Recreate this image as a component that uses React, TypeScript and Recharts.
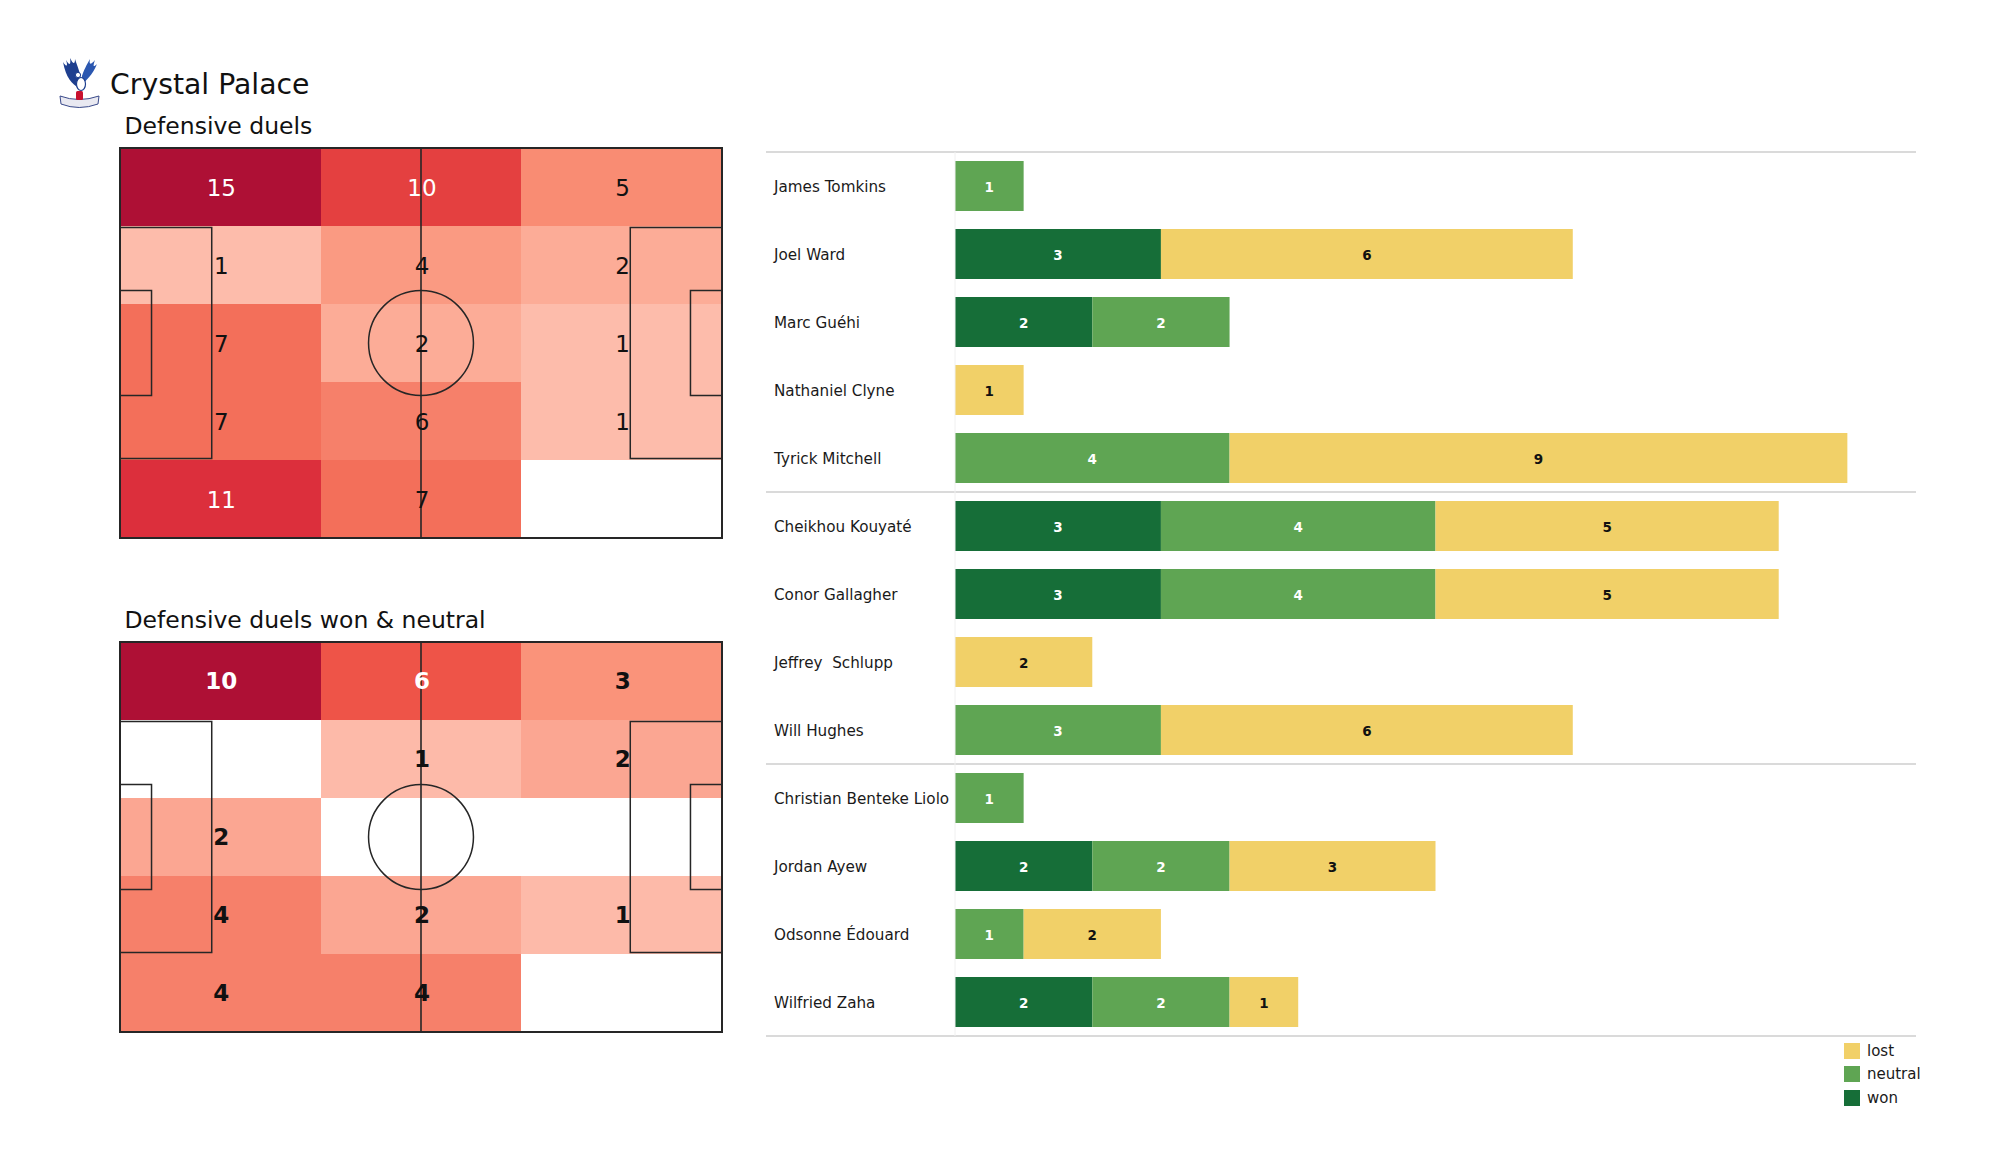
import React from "react";
import {
  Bar,
  BarChart,
  LabelList,
  Legend,
  ReferenceArea,
  ReferenceDot,
  ReferenceLine,
  Scatter,
  ScatterChart,
  XAxis,
  YAxis,
} from "recharts";

// heatmap grids, rows top -> bottom, columns left -> right
const DEF_DUELS = [
  [15, 10, 5],
  [1, 4, 2],
  [7, 2, 1],
  [7, 6, 1],
  [11, 7, 0],
];
const DEF_DUELS_WON = [
  [10, 6, 3],
  [0, 1, 2],
  [2, 0, 0],
  [4, 2, 1],
  [4, 4, 0],
];

const PLAYERS = [
  "James Tomkins",
  "Joel Ward",
  "Marc Guéhi",
  "Nathaniel Clyne",
  "Tyrick Mitchell",
  "Cheikhou Kouyaté",
  "Conor Gallagher",
  "Jeffrey  Schlupp",
  "Will Hughes",
  "Christian Benteke Liolo",
  "Jordan Ayew",
  "Odsonne Édouard",
  "Wilfried Zaha",
];
const WON = [0, 3, 2, 0, 0, 3, 3, 0, 0, 0, 2, 0, 2];
const NEUTRAL = [1, 0, 2, 0, 4, 4, 4, 0, 3, 1, 2, 1, 2];
const LOST = [0, 6, 0, 1, 9, 5, 5, 2, 6, 0, 3, 2, 1];
// index of the first player of each position group
const GROUP_STARTS = [0, 5, 9];

const SERIES = [
  { key: "won", label: "won", color: "#166e38", text: "#ffffff" },
  { key: "neutral", label: "neutral", color: "#5fa553", text: "#ffffff" },
  { key: "lost", label: "lost", color: "#f1d068", text: "#111111" },
];

const FONT = "'DejaVu Sans', sans-serif";
const PITCH_LEN = 105;
const PITCH_WID = 68;
const LINE = "#262626";

const HEAT_STOPS: [number, string][] = [
  [0, "#fdc2b1"],
  [0.067, "#fdbcab"],
  [0.1, "#fdbaa9"],
  [0.133, "#fcac97"],
  [0.2, "#fba692"],
  [0.267, "#fa9a82"],
  [0.3, "#fa937a"],
  [0.333, "#f98c73"],
  [0.4, "#f6806a"],
  [0.467, "#f36f5a"],
  [0.6, "#ee5448"],
  [0.667, "#e44040"],
  [0.733, "#dc2f3c"],
  [1, "#ae1035"],
];

function hexToRgb(h: string) {
  const n = parseInt(h.slice(1), 16);
  return [(n >> 16) & 255, (n >> 8) & 255, n & 255];
}

function heatColor(t: number) {
  for (let i = 1; i < HEAT_STOPS.length; i++) {
    const [t1, c1] = HEAT_STOPS[i];
    if (t <= t1) {
      const [t0, c0] = HEAT_STOPS[i - 1];
      const f = (t - t0) / (t1 - t0);
      const a = hexToRgb(c0);
      const b = hexToRgb(c1);
      const m = a.map((v, k) => Math.round(v + (b[k] - v) * f));
      return `rgb(${m[0]},${m[1]},${m[2]})`;
    }
  }
  return HEAT_STOPS[HEAT_STOPS.length - 1][1];
}

type PitchProps = { grid: number[][]; bold?: boolean; left: number; top: number };

function PitchHeatmap({ grid, bold = false, left, top }: PitchProps) {
  const rows = grid.length;
  const cols = grid[0].length;
  const cw = PITCH_LEN / cols;
  const rh = PITCH_WID / rows;
  const max = Math.max(...grid.flat());
  const cells = grid.flatMap((row, r) =>
    row.map((v, c) => ({ r, c, v, x: (c + 0.5) * cw, y: (r + 0.5) * rh })),
  );
  const plotW = 602;
  const plotH = 390;
  const circleR = (9.15 / PITCH_LEN) * plotW;
  const paDepth = 16;

  const box = (x1: number, x2: number, y1: number, y2: number, w = 1.5, k = "") => (
    <ReferenceArea
      key={k}
      x1={x1}
      x2={x2}
      y1={y1}
      y2={y2}
      fill="none"
      fillOpacity={0}
      stroke={LINE}
      strokeWidth={w}
    />
  );

  return (
    <div style={{ position: "absolute", left, top }}>
      <ScatterChart
        width={plotW + 10}
        height={plotH + 10}
        margin={{ top: 5, right: 5, bottom: 5, left: 5 }}
        style={{ fontFamily: FONT }}
      >
        <XAxis type="number" dataKey="x" domain={[0, PITCH_LEN]} hide allowDataOverflow />
        <YAxis type="number" dataKey="y" domain={[0, PITCH_WID]} hide reversed allowDataOverflow />
        {cells
          .filter((d) => d.v > 0)
          .map((d) => (
            <ReferenceArea
              key={`cell-${d.r}-${d.c}`}
              x1={d.c * cw}
              x2={(d.c + 1) * cw}
              y1={d.r * rh}
              y2={(d.r + 1) * rh}
              fill={heatColor(d.v / max)}
              fillOpacity={1}
              stroke="none"
              shape={(p: any) => (
                <rect
                  x={p.x}
                  y={p.y}
                  width={p.width}
                  height={p.height}
                  fill={heatColor(d.v / max)}
                  shapeRendering="crispEdges"
                />
              )}
            />
          ))}
        {box(0, paDepth, 13.84, 54.16, 1.5, "pa-l")}
        {box(0, 5.5, 24.84, 43.16, 1.5, "ga-l")}
        {box(PITCH_LEN - paDepth, PITCH_LEN, 13.84, 54.16, 1.5, "pa-r")}
        {box(PITCH_LEN - 5.5, PITCH_LEN, 24.84, 43.16, 1.5, "ga-r")}
        <ReferenceLine x={PITCH_LEN / 2} stroke={LINE} strokeWidth={1.6} />
        <ReferenceDot
          x={PITCH_LEN / 2}
          y={PITCH_WID / 2}
          r={circleR}
          fill="none"
          stroke={LINE}
          strokeWidth={1.5}
        />
        {box(0, PITCH_LEN, 0, PITCH_WID, 2, "outline")}
        <Scatter
          data={cells.filter((d) => d.v > 0)}
          isAnimationActive={false}
          shape={(p: any) => {
            const v = p.payload.v;
            return (
              <text
                x={p.cx + 1}
                y={p.cy + (bold ? 0 : 1)}
                textAnchor="middle"
                dominantBaseline="central"
                fontSize={23}
                fontFamily={FONT}
                fontWeight={bold ? "bold" : "normal"}
                fill={v / max > 0.5 ? "#ffffff" : "#111111"}
              >
                {v}
              </text>
            );
          }}
        />
      </ScatterChart>
    </div>
  );
}

const barData = PLAYERS.map((name, i) => ({
  name,
  won: WON[i],
  neutral: NEUTRAL[i],
  lost: LOST[i],
}));

const CHART_W = 2000;
const CHART_H = 1175;
const BAR_MARGIN = { top: 152, right: 84, bottom: 139, left: 766 };
const YAXIS_W = 189;
const X_MAX = 14;
// separator lines reach left over the name column (in value units)
const SEP_X0 = -(YAXIS_W / ((CHART_W - BAR_MARGIN.left - BAR_MARGIN.right - YAXIS_W) / X_MAX));

function makeBarLabel(color: string) {
  return (props: any) => {
    const vb = props.viewBox || {};
    const x = props.x ?? vb.x;
    const y = props.y ?? vb.y;
    const w = props.width ?? vb.width;
    const h = props.height ?? vb.height;
    if (!props.value) return null;
    return (
      <text
        x={x + w / 2}
        y={y + h / 2 + 0.5}
        textAnchor="middle"
        dominantBaseline="central"
        fontSize={13.5}
        fontWeight="bold"
        fontFamily={FONT}
        fill={color}
      >
        {props.value}
      </text>
    );
  };
}

function NameTick(props: any) {
  return (
    <text
      x={BAR_MARGIN.left + 8}
      y={props.y + 1}
      textAnchor="start"
      dominantBaseline="central"
      fontSize={15.2}
      fontFamily={FONT}
      fill="#1a1a1a"
      style={{ whiteSpace: "pre" }}
    >
      {props.payload.value}
    </text>
  );
}

function LegendBox() {
  return (
    <div style={{ fontFamily: FONT, fontSize: 15, color: "#1a1a1a" }}>
      {[...SERIES].reverse().map((s) => (
        <div
          key={s.key}
          style={{ display: "flex", alignItems: "center", height: 23.5, whiteSpace: "nowrap" }}
        >
          <span
            style={{
              display: "inline-block",
              width: 16,
              height: 16,
              background: s.color,
              marginRight: 7,
            }}
          />
          {s.label}
        </div>
      ))}
    </div>
  );
}

function DuelBars() {
  const sepLines = [
    ...GROUP_STARTS.map((i) => ({ y: PLAYERS[i], pos: "start" as const })),
    { y: PLAYERS[PLAYERS.length - 1], pos: "end" as const },
  ];
  return (
    <div style={{ position: "absolute", left: 0, top: 0 }}>
      <BarChart
        width={CHART_W}
        height={CHART_H}
        data={barData}
        layout="vertical"
        margin={BAR_MARGIN}
        barSize={50}
        barCategoryGap={0}
        style={{ fontFamily: FONT }}
      >
        <XAxis type="number" domain={[0, X_MAX]} hide allowDataOverflow />
        <YAxis
          type="category"
          dataKey="name"
          width={YAXIS_W}
          tickLine={false}
          axisLine={{ stroke: "#f0f0f0", strokeWidth: 1 }}
          tick={<NameTick />}
          interval={0}
        />
        {SERIES.map((s) => (
          <Bar
            key={s.key}
            dataKey={s.key}
            stackId="duels"
            fill={s.color}
            isAnimationActive={false}
          >
            <LabelList dataKey={s.key} content={makeBarLabel(s.text)} />
          </Bar>
        ))}
        {sepLines.map((l, i) => (
          <ReferenceLine
            key={`sep-${i}`}
            segment={[
              { x: SEP_X0, y: l.y },
              { x: X_MAX, y: l.y },
            ]}
            position={l.pos}
            ifOverflow="visible"
            stroke="#dadada"
            strokeWidth={1.8}
          />
        ))}
        <Legend
          layout="vertical"
          align="center"
          verticalAlign="middle"
          content={<LegendBox />}
          wrapperStyle={{ left: 1844, top: 1039, width: 90, height: 72 }}
        />
      </BarChart>
    </div>
  );
}

function Header() {
  return (
    <svg
      width={CHART_W}
      height={CHART_H}
      style={{ position: "absolute", left: 0, top: 0, pointerEvents: "none" }}
    >
      {/* club crest, simplified */}
      <g>
        <path
          d="M79,88 C72,84 66,78 63,62 C67,68 68,66 66,60 C70,67 71,64 70,58 C74,66 75,63 75,59 C78,68 80,72 81,80 Z"
          fill="#1e3f8f"
        />
        <path
          d="M81,86 C86,80 92,76 97,64 C93,68 93,66 95,60 C90,66 89,64 90,59 C86,66 84,70 82,76 Z"
          fill="#2b57b0"
        />
        <ellipse cx={81} cy={84} rx={4.5} ry={6.5} fill="#ffffff" stroke="#1e3f8f" strokeWidth={1.2} />
        <circle cx={78} cy={75} r={2.6} fill="#ffffff" stroke="#1e3f8f" strokeWidth={1} />
        <path
          d="M60,96 Q79,103 99,96 L98,104 Q79,111 61,104 Z"
          fill="#e9e9f1"
          stroke="#3a4a8a"
          strokeWidth={1}
        />
        <rect x={76} y={91} width={7} height={9} rx={1.5} fill="#c8102e" />
      </g>
      <text x={110} y={94} fontSize={28.3} fontFamily={FONT} fill="#111">
        Crystal Palace
      </text>
      <text x={124.5} y={134} fontSize={23.5} fontFamily={FONT} fill="#111">
        Defensive duels
      </text>
      <text x={124.5} y={628} fontSize={23.5} fontFamily={FONT} fill="#111">
        Defensive duels won &amp; neutral
      </text>
    </svg>
  );
}

export default function App() {
  return (
    <div
      style={{
        position: "absolute",
        left: 0,
        top: 0,
        width: CHART_W,
        height: CHART_H,
        background: "#ffffff",
        overflow: "hidden",
        fontFamily: FONT,
      }}
    >
      <DuelBars />
      <PitchHeatmap grid={DEF_DUELS} left={115} top={143} />
      <PitchHeatmap grid={DEF_DUELS_WON} bold left={115} top={637} />
      <Header />
    </div>
  );
}
